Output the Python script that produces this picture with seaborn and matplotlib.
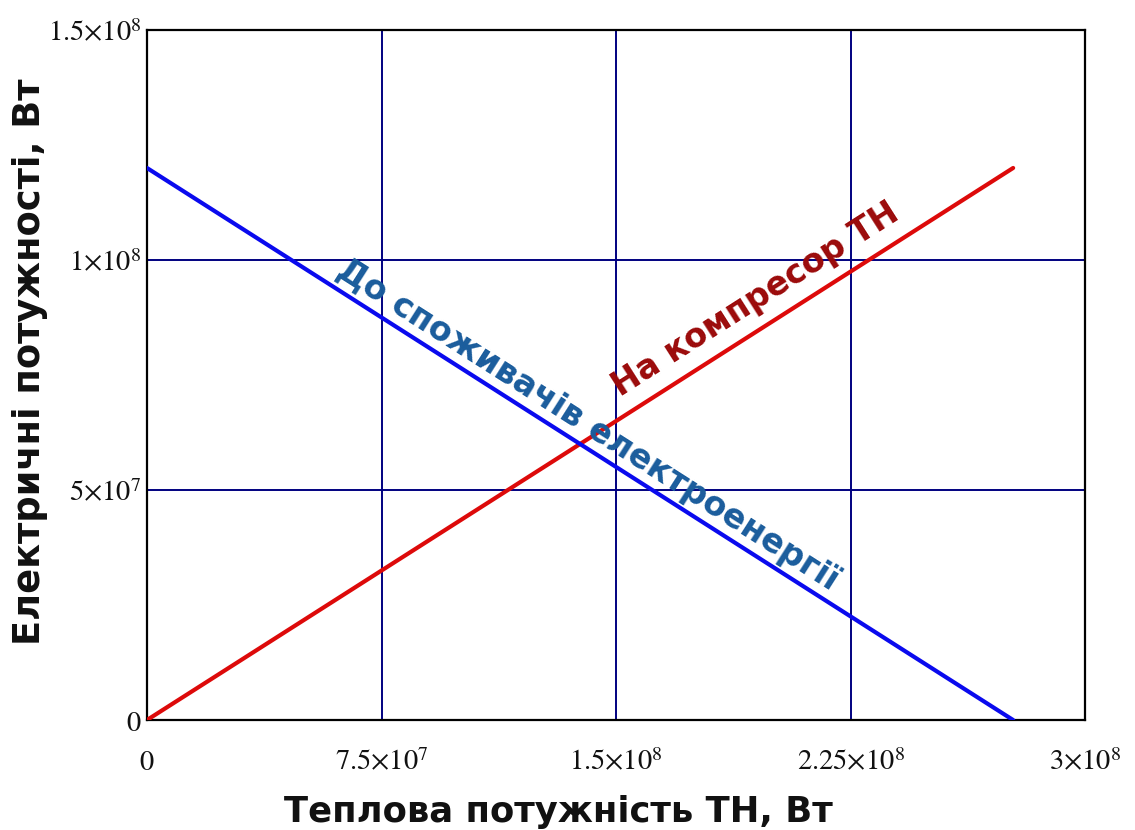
import numpy as np
import pandas as pd
import seaborn as sns
import matplotlib
matplotlib.use("Agg")
import matplotlib.pyplot as plt
from matplotlib.ticker import FixedLocator, FixedFormatter

# Heat pump thermal power, W (end points of the linear relation)
heat_power = [0.0, 2.77e8]
# Electrical power to the heat-pump compressor, W
to_compressor = [0.0, 1.2e8]
# Electrical power delivered to consumers, W
to_consumers = [1.2e8, 0.0]

x_ticks = [0, 7.5e7, 1.5e8, 2.25e8, 3e8]
x_tick_labels = [r"$0$", r"$7.5{\times}10^{7}$", r"$1.5{\times}10^{8}$",
                 r"$2.25{\times}10^{8}$", r"$3{\times}10^{8}$"]
y_ticks = [0, 5e7, 1e8, 1.5e8]
y_tick_labels = [r"$0$", r"$5{\times}10^{7}$", r"$1{\times}10^{8}$", r"$1.5{\times}10^{8}$"]

sns.set_style("white")
plt.rcParams["font.family"] = ["DejaVu Sans"]
plt.rcParams["mathtext.fontset"] = "stix"

df = pd.DataFrame({"x": heat_power, "comp": to_compressor, "cons": to_consumers})

fig = plt.figure(figsize=(11.35, 8.3), dpi=100)
ax = fig.add_axes([0.1295, 0.1325, 0.8265, 0.8314])

ax.set_xlim(0, 3e8)
ax.set_ylim(0, 1.5e8)

# grid
for xv in x_ticks[1:-1]:
    ax.axvline(xv, color="#000080", lw=1.4, zorder=1)
for yv in y_ticks[1:-1]:
    ax.axhline(yv, color="#000080", lw=1.4, zorder=1)

sns.lineplot(data=df, x="x", y="comp", ax=ax, color="#dd0a0a", lw=3, zorder=3)
sns.lineplot(data=df, x="x", y="cons", ax=ax, color="#0a0aee", lw=3, zorder=3)

ax.xaxis.set_major_locator(FixedLocator(x_ticks))
ax.xaxis.set_major_formatter(FixedFormatter(x_tick_labels))
ax.yaxis.set_major_locator(FixedLocator(y_ticks))
ax.yaxis.set_major_formatter(FixedFormatter(y_tick_labels))
ax.tick_params(axis="x", length=0, pad=20, labelsize=20.5, labelcolor="#111111")
ax.tick_params(axis="y", length=0, pad=4, labelsize=20.5, labelcolor="#111111")

for s in ax.spines.values():
    s.set_color("black")
    s.set_linewidth(1.6)

ax.set_xlabel("Теплова потужність ТН, Вт", fontsize=25.5, fontweight="bold",
              color="#111111")
ax.set_ylabel("Електричні потужності, Вт", fontsize=26.5, fontweight="bold",
              color="#111111")
ax.xaxis.set_label_coords(0.439, -0.108)
ax.yaxis.set_label_coords(-0.105, 0.519)

# rotation follows the on-screen slope of the lines
def screen_angle(x0, y0, x1, y1):
    p0 = ax.transData.transform((x0, y0))
    p1 = ax.transData.transform((x1, y1))
    return np.degrees(np.arctan2(p1[1] - p0[1], p1[0] - p0[0]))

ang_comp = screen_angle(heat_power[0], to_compressor[0], heat_power[1], to_compressor[1])
ang_cons = screen_angle(heat_power[0], to_consumers[0], heat_power[1], to_consumers[1])

ax.text(1.41e8, 6.41e7, "До споживачів електроенергії", rotation=ang_cons,
        rotation_mode="anchor", ha="center", va="center", fontsize=24,
        fontweight="bold", color="#1a5c9c", zorder=4)
ax.text(1.945e8, 9.13e7, "На компресор ТН", rotation=ang_comp,
        rotation_mode="anchor", ha="center", va="center", fontsize=24,
        fontweight="bold", color="#9b0a0a", zorder=4)

fig.savefig("out.png", dpi=100, facecolor="white")
